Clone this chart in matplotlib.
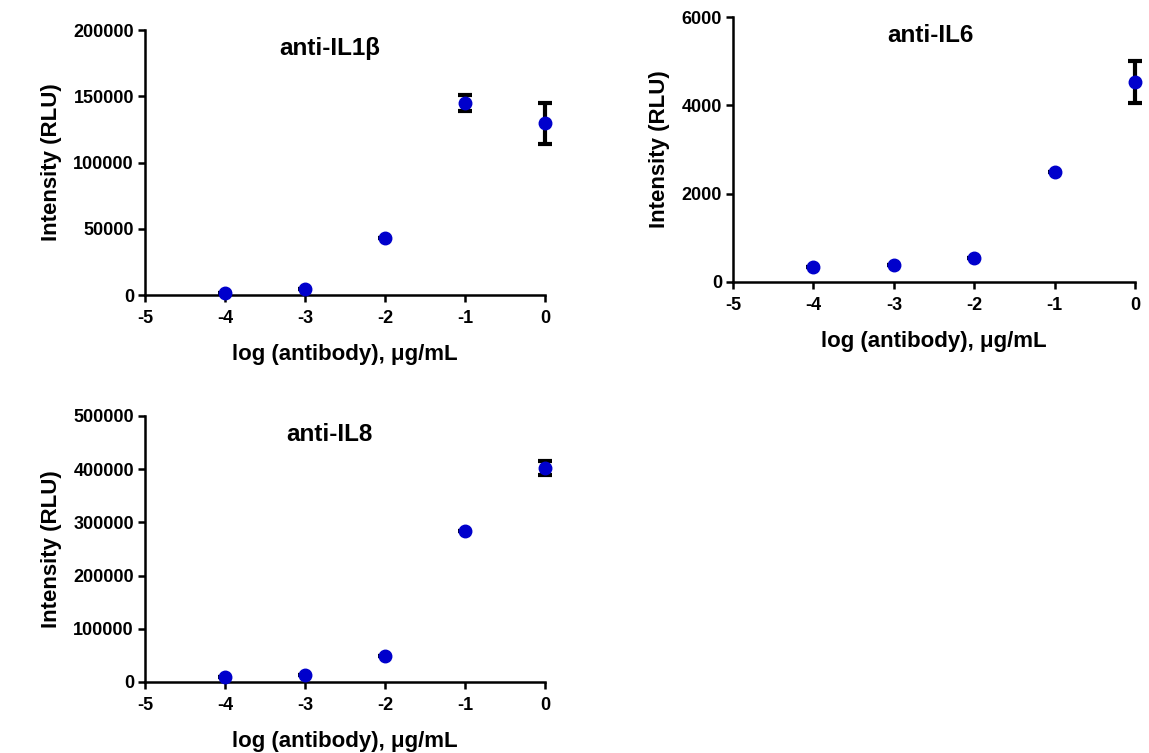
import matplotlib
matplotlib.use('Agg')
import matplotlib.pyplot as plt

plt.rcParams['font.family'] = ['Liberation Sans', 'DejaVu Sans']
plt.rcParams['font.weight'] = 'bold'
plt.rcParams['axes.unicode_minus'] = False

x = [-4, -3, -2, -1, 0]

il1b = [1250, 4250, 43000, 144800, 129500]
il1b_err = [0, 0, 0, 5900, 15500]

il6 = [330, 390, 533, 2480, 4530]
il6_err = [0, 0, 0, 0, 475]

il8 = [10000, 13750, 49400, 283800, 402500]
il8_err = [0, 0, 0, 0, 13000]

# title, values, errors, y ticks, axes rect, title x (data)
panels = [
    ("anti-IL1\u03b2", il1b, il1b_err, [0, 50000, 100000, 150000, 200000],
     [0.1262, 0.6082, 0.3481, 0.3519], -2.69),
    ("anti-IL6", il6, il6_err, [0, 2000, 4000, 6000],
     [0.638, 0.6255, 0.3499, 0.3519], -2.55),
    ("anti-IL8", il8, il8_err, [0, 100000, 200000, 300000, 400000, 500000],
     [0.1262, 0.0943, 0.3481, 0.3533], -2.69),
]

fig = plt.figure(figsize=(11.49, 7.53), dpi=100)

for title, y, err, yticks, rect, tx in panels:
    ax = fig.add_axes(rect)
    ax.errorbar(x, y, yerr=err, fmt='none', ecolor='black', elinewidth=3,
                capsize=5, capthick=3, zorder=2, clip_on=False)
    ax.plot(x, y, 'o', color='#0000cc', ms=9, zorder=3, clip_on=False)
    ax.set_xlim(-5, 0)
    ax.set_ylim(yticks[0], yticks[-1])
    ax.set_xticks([-5, -4, -3, -2, -1, 0])
    ax.set_yticks(yticks)
    ax.set_yticklabels([str(v) for v in yticks])
    for s in ['top', 'right']:
        ax.spines[s].set_visible(False)
    for s in ['left', 'bottom']:
        ax.spines[s].set_linewidth(1.8)
    ax.tick_params(direction='out', length=5, width=1.8, labelsize=13, pad=3)
    ax.tick_params(axis='x', pad=6)
    for lab in ax.get_xticklabels() + ax.get_yticklabels():
        lab.set_fontweight('bold')
    ax.set_xlabel('log (antibody), \u03bcg/mL', fontsize=16, fontweight='bold', labelpad=12)
    ax.set_ylabel('Intensity (RLU)', fontsize=16, fontweight='bold', labelpad=8)
    ax.text(tx, 0.93, title, transform=ax.get_xaxis_transform(), ha='center', va='center',
            fontsize=17.5, fontweight='bold')

fig.savefig('out.png', dpi=100)
